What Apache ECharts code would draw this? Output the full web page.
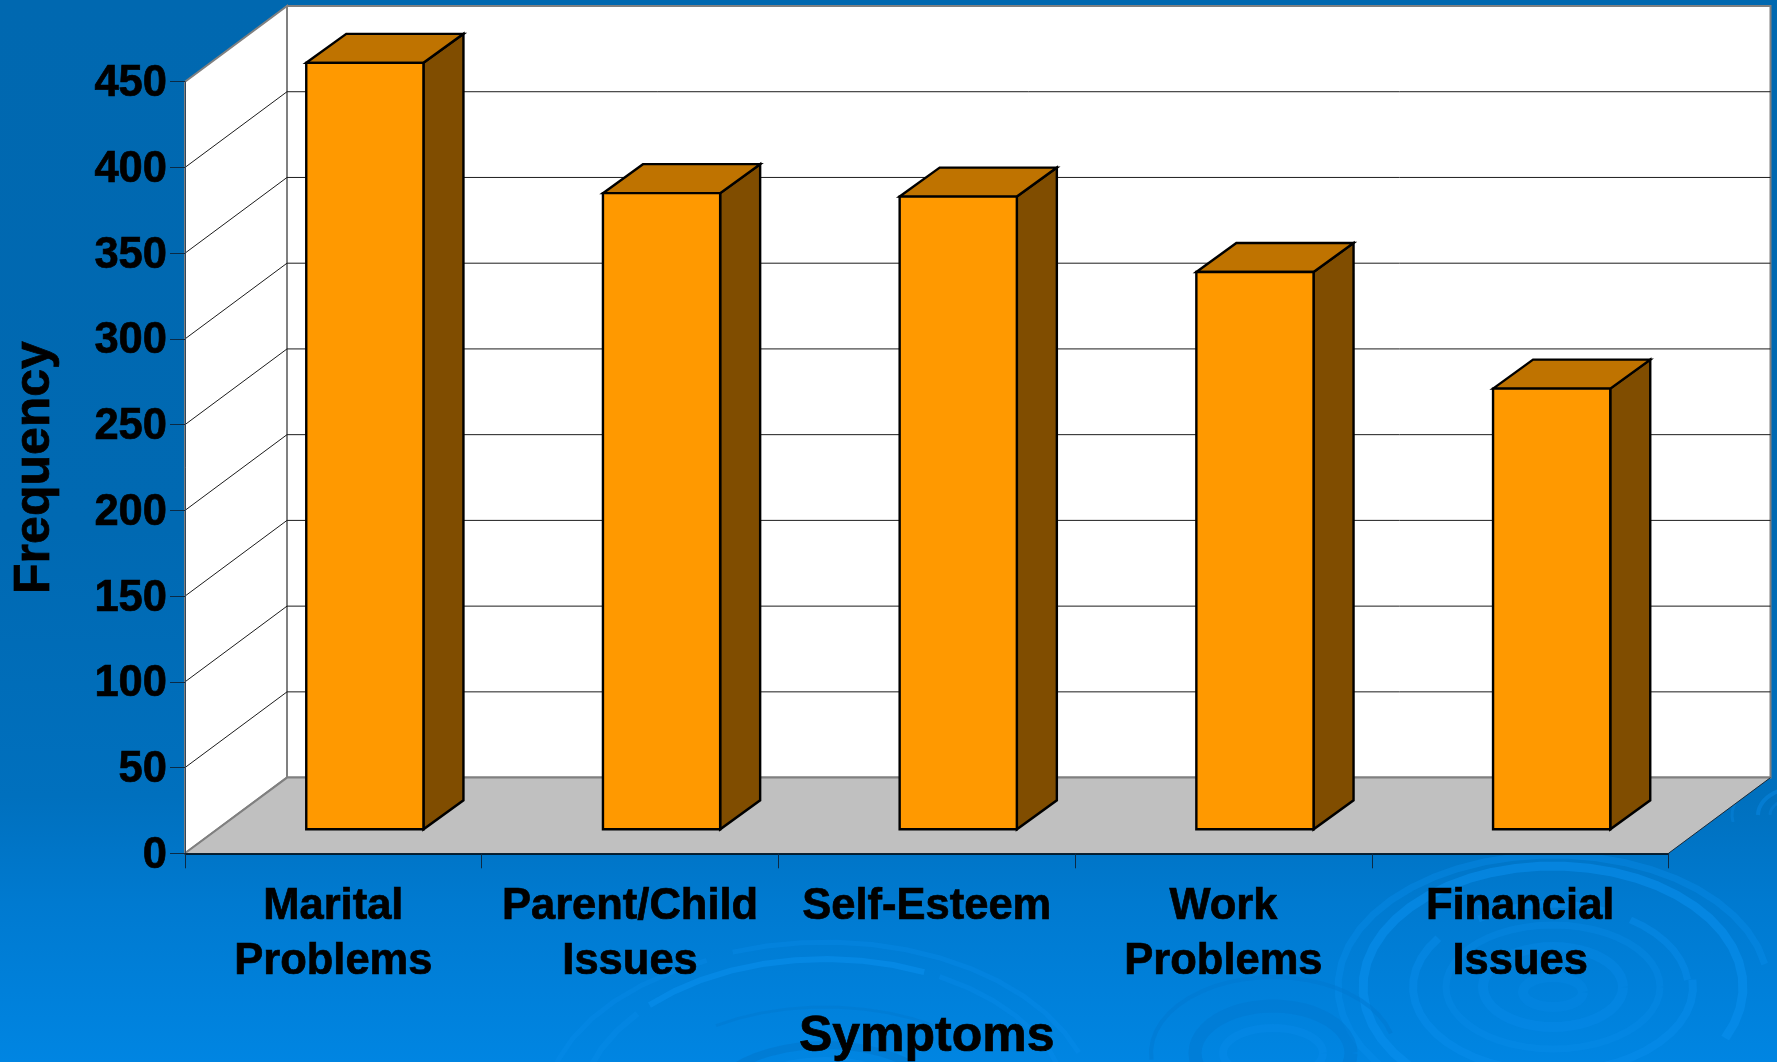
<!DOCTYPE html>
<html>
<head>
<meta charset="utf-8">
<title>Symptoms by frequency</title>
<style>
  html, body { margin: 0; padding: 0; background: #0068b0; }
  #chart { width: 1777px; height: 1062px; }
</style>
<script src="https://cdn.jsdelivr.net/npm/echarts@6/dist/echarts.min.js"></script>
</head>
<body>
<div id="chart"></div>
<script>
// Chart data
const categories = ['Marital\nProblems', 'Parent/Child\nIssues', 'Self-Esteem', 'Work\nProblems', 'Financial\nIssues'];
const frequency = [447, 371, 369, 325, 257];
const yTicks = [50, 100, 150, 200, 250, 300, 350, 400];

// Oblique projection of the pseudo-3D box, in pixels
const BOX_DX = 102;
const BOX_DY = 75.7;
const BAR_DX = 40;
const BAR_DY = 29;
const BAR_SHIFT_X = 31.5;
const BAR_LIFT_Y = 24;
const BAR_BAND_RATIO = 0.395;

const FONT = '"Liberation Sans", Arial, sans-serif';
const WALL_EDGE = '#808080';

// Faceted ellipse arc, angles in degrees clockwise from east
function ring(cx, cy, rx, ry, a0, a1, width, color, opacity) {
  const points = [];
  const steps = Math.max(2, Math.round(Math.abs(a1 - a0) / 7.5));
  for (let i = 0; i <= steps; i++) {
    const t = (a0 + (a1 - a0) * i / steps) * Math.PI / 180;
    points.push([cx + rx * Math.cos(t), cy + ry * Math.sin(t)]);
  }
  return {
    type: 'polyline',
    silent: true,
    z: -10,
    shape: { points: points },
    style: { stroke: color, lineWidth: width, fill: null, opacity: opacity, lineJoin: 'round' }
  };
}

// Water ripples of the slide backdrop
const LIGHT = '#0a8fee';
const DARK = '#0073c8';
const ripples = [
  ring(1553, 987, 215, 132, 130, 350, 7, LIGHT, 0.35),
  ring(1553, 987, 190, 121, 110, 385, 9, LIGHT, 0.55),
  ring(1553, 987, 140, 85, -5, 215, 8, LIGHT, 0.42),
  ring(1553, 987, 130, 83, 235, 295, 7, LIGHT, 0.42),
  ring(1553, 987, 135, 82, 305, 355, 7, LIGHT, 0.42),
  ring(1553, 987, 107, 62, 0, 360, 7, LIGHT, 0.28),
  ring(1553, 987, 70, 40, 0, 360, 10, LIGHT, 0.3),
  ring(1553, 992, 30, 15, 0, 360, 10, LIGHT, 0.22),
  ring(1273, 1053, 122, 76, 175, 345, 4, '#0078d0', 0.5),
  ring(1273, 1053, 78, 47, 0, 360, 13, '#0078d0', 0.5),
  ring(1273, 1053, 50, 25, 0, 360, 8, LIGHT, 0.3),
  ring(825, 1110, 244, 151, 224, 294, 6, LIGHT, 0.55),
  ring(825, 1110, 270, 168, 250, 340, 5, LIGHT, 0.3),
  ring(825, 1110, 280, 165, 190, 245, 5, LIGHT, 0.25),
  ring(825, 1110, 245, 150, 180, 220, 6, LIGHT, 0.28),
  ring(825, 1110, 244, 151, 298, 345, 5, LIGHT, 0.3),
  ring(825, 1110, 190, 103, 235, 305, 3, DARK, 0.3),
  ring(825, 1110, 120, 65, 220, 320, 8, DARK, 0.45),
  ring(825, 1110, 95, 50, 225, 315, 6, LIGHT, 0.4),
  ring(1800, 815, 42, 28, 180, 270, 4, LIGHT, 0.4),
  ring(1800, 815, 68, 40, 170, 230, 3, LIGHT, 0.3),
  ring(1800, 815, 30, 18, 180, 270, 3, LIGHT, 0.25)
];

// Floor and the two walls, spanning the whole grid
function renderBox(params) {
  const c = params.coordSys;
  const l = c.x, r = c.x + c.width, t = c.y, b = c.y + c.height;
  const edge = { stroke: WALL_EDGE, lineWidth: 2 };
  return {
    type: 'group',
    children: [
      { type: 'polygon', shape: { points: [[l + BOX_DX, t - BOX_DY], [r + BOX_DX, t - BOX_DY], [r + BOX_DX, b - BOX_DY], [l + BOX_DX, b - BOX_DY]] },
        style: Object.assign({ fill: '#ffffff' }, edge) },
      { type: 'polygon', shape: { points: [[l, t], [l + BOX_DX, t - BOX_DY], [l + BOX_DX, b - BOX_DY], [l, b]] },
        style: Object.assign({ fill: '#ffffff' }, edge) },
      { type: 'polygon', shape: { points: [[l, b], [l + BOX_DX, b - BOX_DY], [r + BOX_DX, b - BOX_DY], [r, b]] },
        style: { fill: '#c0c0c0', stroke: null } },
      { type: 'polyline', shape: { points: [[l, b], [l + BOX_DX, b - BOX_DY], [r + BOX_DX, b - BOX_DY]] },
        style: { fill: null, stroke: WALL_EDGE, lineWidth: 2 } },
      { type: 'line', shape: { x1: r, y1: b, x2: r + BOX_DX, y2: b - BOX_DY },
        style: { stroke: '#1a2a38', lineWidth: 1 } }
    ]
  };
}

// One gridline folded across the side wall and the back wall
function renderGridline(params, api) {
  const c = params.coordSys;
  const y = api.coord([0, api.value(0)])[1];
  const l = c.x, r = c.x + c.width;
  return {
    type: 'polyline',
    shape: { points: [[l, y], [l + BOX_DX, y - BOX_DY], [r + BOX_DX, y - BOX_DY]] },
    style: { fill: null, stroke: '#1c1c1c', lineWidth: 1 }
  };
}

// Box-shaped bar: front, top and side faces
function renderBar(params, api) {
  const i = api.value(0);
  const top = api.coord([i, api.value(1)]);
  const base = api.coord([i, 0]);
  const w = api.size([1, 0])[0] * BAR_BAND_RATIO;
  const x0 = top[0] + BAR_SHIFT_X - w / 2;
  const x1 = x0 + w;
  const yT = top[1] - BAR_LIFT_Y;
  const yB = base[1] - BAR_LIFT_Y;
  const line = { stroke: '#000000', lineWidth: 2.4, lineJoin: 'miter' };
  return {
    type: 'group',
    children: [
      { type: 'polygon', shape: { points: [[x1, yT], [x1 + BAR_DX, yT - BAR_DY], [x1 + BAR_DX, yB - BAR_DY], [x1, yB]] },
        style: Object.assign({ fill: '#804d00' }, line) },
      { type: 'polygon', shape: { points: [[x0, yT], [x0 + BAR_DX, yT - BAR_DY], [x1 + BAR_DX, yT - BAR_DY], [x1, yT]] },
        style: Object.assign({ fill: '#bf7300' }, line) },
      { type: 'polygon', shape: { points: [[x0, yT], [x1, yT], [x1, yB], [x0, yB]] },
        style: Object.assign({ fill: '#ff9900' }, line) }
    ]
  };
}

// Shared weight for all chart text
const heavy = { color: '#000', fontFamily: FONT, fontWeight: 'bold', textBorderColor: '#000', textBorderWidth: 0.7 };

const chart = echarts.init(document.getElementById('chart'), null, { renderer: 'canvas' });
chart.setOption({
  animation: false,
  backgroundColor: {
    type: 'linear', x: 0, y: 0, x2: 0, y2: 1,
    colorStops: [
      { offset: 0, color: '#0068b0' },
      { offset: 0.5, color: '#0069b2' },
      { offset: 0.75, color: '#0070be' },
      { offset: 0.85, color: '#007ad0' },
      { offset: 1, color: '#0085e2' }
    ]
  },
  graphic: { elements: ripples },
  grid: { left: 185, right: 108.5, top: 81.7, bottom: 208.7, containLabel: false, outerBoundsMode: 'none' },
  xAxis: {
    type: 'category',
    data: categories,
    z: 3,
    name: 'Symptoms',
    nameLocation: 'middle',
    nameGap: 159,
    nameTextStyle: Object.assign({ fontSize: 50 }, heavy),
    axisLine: { show: true, lineStyle: { color: '#000', width: 1.5 } },
    axisTick: { show: true, length: 15, alignWithLabel: false, lineStyle: { color: '#0b2a45', width: 1 } },
    axisLabel: Object.assign({
      interval: 0, margin: 26, fontSize: 43.5, lineHeight: 55, align: 'center', hideOverlap: false
    }, heavy),
    splitLine: { show: false }
  },
  yAxis: {
    type: 'value',
    min: 0, max: 450, interval: 50,
    z: 3,
    name: 'Frequency',
    nameLocation: 'middle',
    nameGap: 125,
    nameRotate: 90,
    nameTextStyle: Object.assign({ fontSize: 50 }, heavy),
    axisLine: { show: true, lineStyle: { color: '#33475a', width: 1 } },
    axisTick: { show: true, length: 15, lineStyle: { color: '#0b2a45', width: 1 } },
    axisLabel: Object.assign({ margin: 18, verticalAlign: 'top', lineHeight: 5, fontSize: 43.5, showMinLabel: true, showMaxLabel: true, hideOverlap: false }, heavy),
    splitLine: { show: false }
  },
  series: [
    { type: 'custom', name: 'box', z: 1, silent: true, clip: false, renderItem: renderBox, data: [[0]], encode: { x: -1, y: -1 } },
    { type: 'custom', name: 'gridlines', z: 2, silent: true, clip: false, renderItem: renderGridline,
      data: yTicks.map(v => [v]), encode: { y: 0 } },
    { type: 'custom', name: 'Frequency', z: 4, clip: false, renderItem: renderBar,
      data: frequency.map((v, i) => [i, v]), encode: { x: 0, y: 1 } }
  ]
});
</script>
</body>
</html>
